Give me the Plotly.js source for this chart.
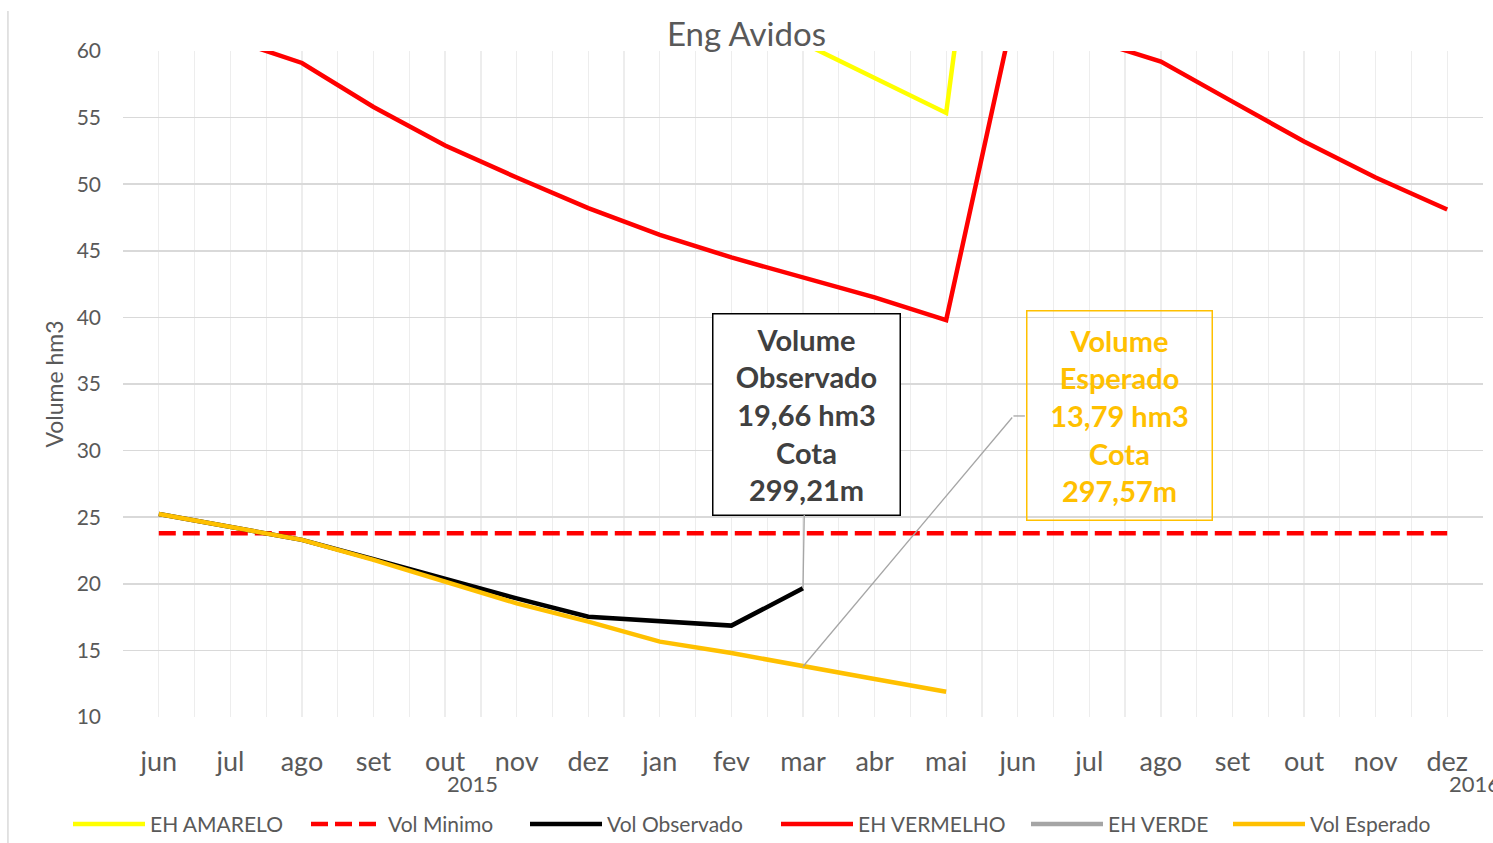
<!DOCTYPE html>
<html>
<head>
<meta charset="utf-8">
<script src="https://cdn.plot.ly/plotly-3.0.1.min.js"></script>
<style>html,body{margin:0;padding:0;background:#fff;}#chart{width:1493px;height:843px;}</style>
</head>
<body>
<div id="chart"></div>
<script>
// Month categories (jun 2015 .. dez 2016)
const months = ['jun','jul','ago','set','out','nov','dez','jan','fev','mar','abr','mai','jun','jul','ago','set','out','nov','dez'];
const yearLabels = ['2015','2016'];

// Series values (hm3); null = no value
const ehAmarelo   = [null,null,null,null,null,null,null,null,null,60.6,58.0,55.35,96.0,null,null,null,null,null,null];
const volMinimo   = [23.8,23.8,23.8,23.8,23.8,23.8,23.8,23.8,23.8,23.8,23.8,23.8,23.8,23.8,23.8,23.8,23.8,23.8,23.8];
const volObservado= [25.24,24.3,23.3,21.85,20.35,18.9,17.53,17.2,16.86,19.66,null,null,null,null,null,null,null,null,null];
const ehVermelho  = [64.3,60.9,59.1,55.8,52.9,50.5,48.2,46.2,44.5,43.0,41.5,39.8,64.3,60.9,59.2,56.2,53.2,50.5,48.1];
const ehVerde     = [null,null,null,null,null,null,null,null,null,null,null,null,null,null,null,null,null,null,null];
const volEsperado = [25.24,24.29,23.3,21.8,20.16,18.53,17.16,15.66,14.8,13.79,12.85,11.9,null,null,null,null,null,null,null];

const idx = months.map((m,i)=>i);
const FONT = 'Lato, "Open Sans", sans-serif';
const GREY = '#595959';

function tr(name, y, color, width, dash, leg){
  return {type:'scatter', mode:'lines', name:name, x:idx, y:y, legend:leg,
          line:{color:color, width:width, dash:dash||'solid'}, connectgaps:false, hoverinfo:'skip'};
}

const data = [
  tr('EH AMARELO', ehAmarelo, '#ffff00', 4.5, null, 'legend'),
  tr('Vol Minimo', volMinimo, '#ff0000', 4.5, '17px,7px', 'legend2'),
  tr('Vol Observado', volObservado, '#000000', 4.5, null, 'legend3'),
  tr('EH VERMELHO', ehVermelho, '#ff0000', 4.5, null, 'legend4'),
  tr('EH VERDE', ehVerde, '#a5a5a5', 4.5, null, 'legend5'),
  tr('Vol Esperado', volEsperado, '#ffc000', 4.5, null, 'legend6')
];

const plotL = 123, plotW = 1360;
function leg(px){
  return {orientation:'h', x:(px-5-plotL)/plotW, xanchor:'left', y:-0.161, yanchor:'middle',
          font:{family:FONT, size:21, color:GREY}, itemwidth:72, bgcolor:'rgba(0,0,0,0)'};
}

const obsI = 9;
const layout = {
  width:1493, height:843,
  margin:{l:123, r:10, t:51, b:126, autoexpand:false},
  paper_bgcolor:'#ffffff', plot_bgcolor:'#ffffff',
  font:{family:FONT, color:GREY},
  title:{text:'Eng Avidos', font:{family:FONT, size:33, color:GREY}, x:0.5, xref:'container', y:1-34/843, yref:'container', yanchor:'middle'},
  showlegend:true,
  legend:leg(73), legend2:leg(311), legend3:leg(530), legend4:leg(781), legend5:leg(1031), legend6:leg(1233),
  xaxis:{
    range:[-0.5,18.5], tickmode:'array', tickvals:idx, ticktext:months,
    showgrid:true, gridcolor:'#ededed', gridwidth:1.3, zeroline:false, showline:false,
    ticks:'', ticklabelstandoff:26, tickfont:{family:FONT, size:27, color:GREY},
    minor:{tickmode:'linear', tick0:-0.5, dtick:1, showgrid:true, gridcolor:'#ededed', gridwidth:1.3},
    fixedrange:true
  },
  yaxis:{
    range:[10,60], tickmode:'linear', tick0:10, dtick:5,
    showgrid:true, gridcolor:'#d9d9d9', gridwidth:1.5, zeroline:false, showline:false,
    ticks:'', ticklabelstandoff:21, tickfont:{family:FONT, size:21, color:GREY},
    title:{text:'Volume hm3', font:{family:FONT, size:23, color:GREY}, standoff:6},
    fixedrange:true
  },
  annotations:[
    {xref:'x', yref:'paper', x:4, y:-0.1, xanchor:'left', yanchor:'middle', text:yearLabels[0], showarrow:false, font:{family:FONT, size:22, color:GREY}},
    {xref:'x', yref:'paper', x:18, y:-0.1, xanchor:'left', yanchor:'middle', text:yearLabels[1], showarrow:false, font:{family:FONT, size:22, color:GREY}},
    {xref:'x', yref:'y', x:obsI, y:volObservado[obsI], ax:3, ay:-174,
     text:'<b>Volume<br>Observado<br>'+volObservado[obsI].toFixed(2).replace('.',',')+' hm3<br>Cota<br>299,21m</b>',
     showarrow:true, arrowhead:0, arrowwidth:1.3, arrowcolor:'#a6a6a6', standoff:0,
     font:{family:FONT, size:29, color:'#404040'}, bordercolor:'#000000', borderwidth:1.5, borderpad:0,
     width:186, height:200, bgcolor:'#ffffff', align:'center', valign:'middle'},
    {xref:'x', yref:'y', x:obsI, y:volEsperado[obsI], axref:'x', ayref:'y', ax:11.94, ay:32.6,
     text:'', showarrow:true, arrowhead:0, arrowwidth:1.3, arrowcolor:'#a6a6a6', standoff:0},
    {xref:'x', yref:'y', x:13.42, y:32.6, showarrow:false,
     text:'<b>Volume<br>Esperado<br>'+volEsperado[obsI].toFixed(2).replace('.',',')+' hm3<br>Cota<br>297,57m</b>',
     font:{family:FONT, size:29, color:'#ffc000'}, bordercolor:'#ffc000', borderwidth:1.5, borderpad:0,
     width:184, height:208, align:'center', valign:'middle'}
  ],
  shapes:[
    {type:'line', xref:'x', yref:'y', x0:11.94, x1:12.1, y0:32.6, y1:32.6, line:{color:'#a6a6a6', width:1.3}},
    {type:'line', xref:'paper', yref:'paper', x0:-0.0846, x1:-0.0846, y0:-0.2, y1:1.06, line:{color:'#d9d9d9', width:1.5}}
  ]
};

Plotly.newPlot('chart', data, layout, {displayModeBar:false, staticPlot:true});
</script>
</body>
</html>
